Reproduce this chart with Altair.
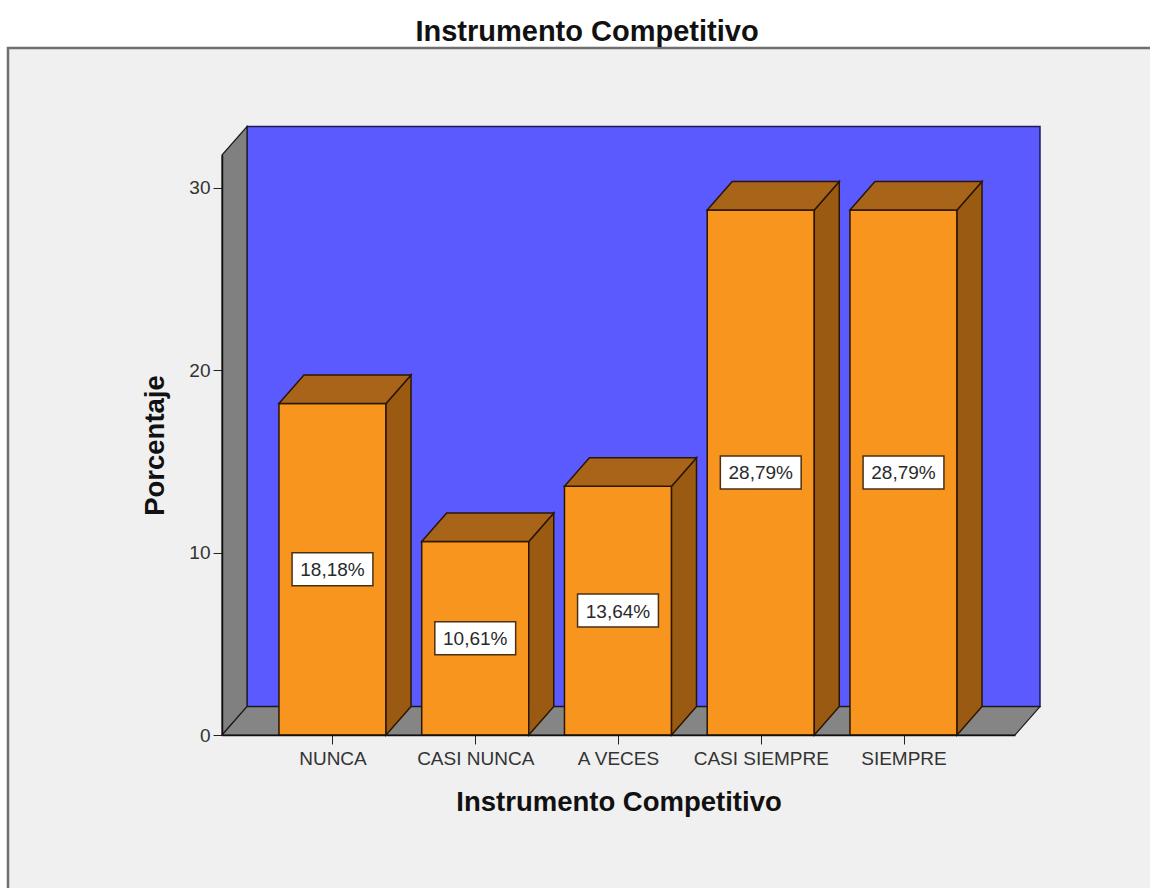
import altair as alt
import pandas as pd

# Survey results: share of answers per frequency category
categories = ["NUNCA", "CASI NUNCA", "A VECES", "CASI SIEMPRE", "SIEMPRE"]
percentages = [18.18, 10.61, 13.64, 28.79, 28.79]
y_ticks = [0, 10, 20, 30]

# Geometry of the pseudo-3D box, in data units
BAR_W = 0.75        # bar width (category spacing = 1)
DX = 0.175          # depth offset along x
DY = 1.56           # depth offset along y
X_LO, X_HI = -0.774, 4.781
Y_TOP = 31.8

FONT = "Liberation Sans"
ORANGE = "#f7951f"
BROWN_TOP = "#a8651a"
BROWN_SIDE = "#9a5a12"
OUTLINE = "#2b1600"

bars = pd.DataFrame({"cat": categories, "pct": percentages,
                     "pos": list(range(len(categories)))})
# front (k=0) and back (k=1) edge of every bar, used for the depth faces
edges = bars.merge(pd.DataFrame({"k": [0, 1]}), how="cross")
corners = pd.DataFrame({"k": [0, 1]})
one = pd.DataFrame({"k": [0]})

xs = alt.Scale(domain=[X_LO, X_HI], nice=False, zero=False)
ys = alt.Scale(domain=[0, Y_TOP], nice=False, zero=False)

label_expr = "[" + ",".join(f"'{c}'" for c in categories) + "][datum.value]"

x_axis = alt.Axis(values=list(range(len(categories))), labelExpr=label_expr,
                  title="Instrumento Competitivo", titleFontSize=27.5,
                  titleFontWeight="bold", titleColor="#111", titlePadding=20,
                  labelFontSize=19, labelColor="#333", labelPadding=5,
                  tickSize=9, tickColor="#222", domainColor="#111",
                  domainWidth=1.5, grid=False, labelOverlap=False,
                  labelFlush=False, zindex=1)
y_axis = alt.Axis(values=y_ticks, format="d", title="Porcentaje",
                  titleFontSize=27.5, titleFontWeight="bold", titleColor="#111",
                  titlePadding=19, labelFontSize=19, labelColor="#333",
                  labelPadding=3, tickSize=9, tickColor="#222",
                  domainColor="#111", domainWidth=1.5, grid=False, zindex=1)


def X(field, **kw):
    return alt.X(field, scale=xs, axis=x_axis, **kw)


def Y(field, **kw):
    return alt.Y(field, scale=ys, axis=y_axis, **kw)


# light grey frame behind the whole chart
panel = alt.Chart(one).mark_rect(
    fill="#f0f0f0", stroke="#6f6f6f", strokeWidth=2.5
).encode(x=alt.value(-214), x2=alt.value(944),
         y=alt.value(-107), y2=alt.value(760))

# blue back wall
back_wall = alt.Chart(one).transform_calculate(
    x0=f"{X_LO + DX}", x1=f"{X_HI + DX}", y0=f"{DY}", y1=f"{Y_TOP + DY}"
).mark_rect(fill="#5a5aff", stroke="#1b1b55", strokeWidth=1.5).encode(
    x=X("x0:Q"), x2="x1:Q", y=Y("y0:Q"), y2="y1:Q")

# grey left wall
left_wall = alt.Chart(corners).transform_calculate(
    x=f"{X_LO} + datum.k * {DX}", y0=f"datum.k * {DY}",
    y1=f"{Y_TOP} + datum.k * {DY}"
).mark_area(orient="vertical", fill="#808080", stroke="#1a1a1a",
            strokeWidth=1.2).encode(
    x=X("x:Q"), y=Y("y0:Q", stack=None), y2="y1:Q")

# grey floor
floor = alt.Chart(corners).transform_calculate(
    y=f"datum.k * {DY}", x0=f"{X_LO} + datum.k * {DX}",
    x1=f"{X_HI} + datum.k * {DX}"
).mark_area(orient="horizontal", fill="#858585", stroke="#1a1a1a",
            strokeWidth=1.2).encode(
    y=Y("y:Q"), x=X("x0:Q", stack=None), x2="x1:Q")

# bar front faces
fronts = alt.Chart(bars).transform_calculate(
    x0=f"datum.pos - {BAR_W / 2}", x1=f"datum.pos + {BAR_W / 2}", y0="0"
).mark_rect(fill=ORANGE, stroke=OUTLINE, strokeWidth=1.5).encode(
    x=X("x0:Q"), x2="x1:Q", y=Y("y0:Q"), y2="pct:Q")

# bar right-hand side faces
sides = alt.Chart(edges).transform_calculate(
    x=f"datum.pos + {BAR_W / 2} + datum.k * {DX}",
    y0=f"datum.k * {DY}", y1=f"datum.pct + datum.k * {DY}"
).mark_area(orient="vertical", fill=BROWN_SIDE, stroke=OUTLINE,
            strokeWidth=1.5).encode(
    x=X("x:Q"), y=Y("y0:Q", stack=None), y2="y1:Q", detail="cat:N")

# bar top faces
tops = alt.Chart(edges).transform_calculate(
    y=f"datum.pct + datum.k * {DY}",
    x0=f"datum.pos - {BAR_W / 2} + datum.k * {DX}",
    x1=f"datum.pos + {BAR_W / 2} + datum.k * {DX}"
).mark_area(orient="horizontal", fill=BROWN_TOP, stroke=OUTLINE,
            strokeWidth=1.5).encode(
    y=Y("y:Q"), x=X("x0:Q", stack=None), x2="x1:Q", detail="cat:N")

# value labels in white boxes at mid-height of each bar
label_base = alt.Chart(bars).transform_calculate(
    mid="datum.pct / 2",
    txt="replace(format(datum.pct, '.2f'), '.', ',') + '%'"
)
boxes = label_base.mark_point(
    shape="M-2.45,-1L2.45,-1L2.45,1L-2.45,1Z", filled=True, fill="white",
    stroke="#4a3010", strokeWidth=1.5, opacity=1, size=1089
).encode(x=X("pos:Q"), y=Y("mid:Q"))
texts = label_base.mark_text(
    font=FONT, fontSize=19, color="#2a2a2a", align="center",
    baseline="middle", dy=1
).encode(x=X("pos:Q"), y=Y("mid:Q"), text="txt:N")

chart = alt.layer(
    panel, back_wall, left_wall, floor, fronts, sides, tops, boxes, texts
).properties(
    width=793, height=580,
    padding={"left": 222, "top": 155, "right": 135, "bottom": 153},
    autosize=alt.AutoSizeParams(type="none"),
    background="white",
    title=alt.Title("Instrumento Competitivo", font=FONT, fontSize=29,
                    fontWeight="bold", color="#111", frame="bounds",
                    anchor="middle", offset=-29, baseline="bottom"),
).configure(font=FONT).configure_view(stroke=None)

chart.save("out.html", embed_options={"renderer": "svg", "actions": False})
